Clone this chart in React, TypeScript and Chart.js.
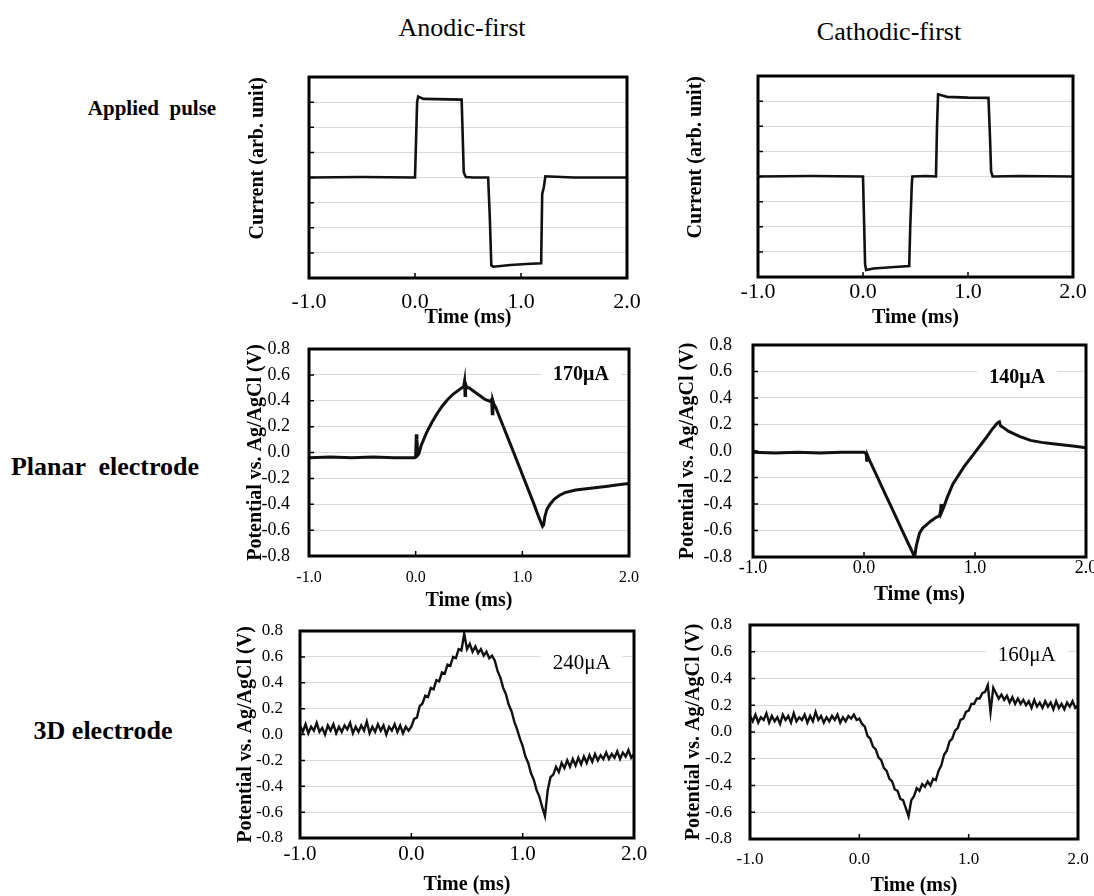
import React, { useEffect, useRef } from "react";
import { Chart, registerables } from "chart.js";

Chart.register(...registerables);

const SERIF = "'Liberation Serif', 'Times New Roman', Times, serif";

// ---------------- data ----------------
const timeTicks = [-1.0, 0.0, 1.0, 2.0];

// Applied pulse, anodic-first (arb. unit)
const anodicPulseTime = [-1.0, -0.5, 0.0, 0.02, 0.03, 0.08, 0.2, 0.44, 0.46, 0.48, 0.55, 0.69, 0.705, 0.72, 0.74, 0.9, 1.05, 1.19, 1.2, 1.215, 1.23, 1.27, 1.5, 2.0];
const anodicPulseValue = [0.0, 0.02, 0.0, 3.0, 3.22, 3.13, 3.12, 3.1, 0.2, 0.02, 0.0, 0.0, -1.5, -3.5, -3.55, -3.48, -3.44, -3.41, -0.65, -0.4, 0.05, 0.04, 0.0, 0.0];

// Applied pulse, cathodic-first (arb. unit)
const cathodicPulseTime = [-1.0, -0.5, 0.0, 0.02, 0.03, 0.1, 0.3, 0.44, 0.45, 0.465, 0.47, 0.6, 0.695, 0.705, 0.715, 0.8, 1.0, 1.195, 1.21, 1.22, 1.235, 1.5, 2.0];
const cathodicPulseValue = [0.0, 0.02, 0.0, -3.5, -3.72, -3.66, -3.6, -3.56, -2.0, -0.3, 0.0, 0.02, 0.0, 2.0, 3.27, 3.17, 3.14, 3.13, 1.5, 0.2, 0.0, 0.02, 0.0];

// Planar electrode, anodic-first (V)
const planarAnodicTime = [-1.0, -0.8, -0.6, -0.4, -0.2, -0.01, 0.0, 0.006, 0.012, 0.02, 0.03, 0.05, 0.1, 0.15, 0.2, 0.25, 0.3, 0.35, 0.4, 0.45, 0.458, 0.463, 0.468, 0.48, 0.5, 0.55, 0.6, 0.65, 0.7, 0.712, 0.718, 0.724, 0.735, 0.75, 0.8, 0.9, 1.0, 1.1, 1.15, 1.19, 1.2, 1.21, 1.23, 1.26, 1.3, 1.35, 1.4, 1.5, 1.6, 1.7, 1.8, 1.9, 2.0];
const planarAnodicValue = [-0.04, -0.035, -0.04, -0.035, -0.04, -0.04, -0.03, 0.14, 0.1, -0.02, -0.01, 0.05, 0.15, 0.23, 0.3, 0.36, 0.41, 0.45, 0.48, 0.51, 0.55, 0.44, 0.53, 0.5, 0.5, 0.47, 0.44, 0.41, 0.395, 0.41, 0.3, 0.4, 0.37, 0.35, 0.245, 0.04, -0.17, -0.38, -0.49, -0.57, -0.56, -0.5, -0.44, -0.4, -0.36, -0.33, -0.31, -0.29, -0.28, -0.27, -0.26, -0.25, -0.24];

// Planar electrode, cathodic-first (V)
const planarCathodicTime = [-1.0, -0.8, -0.6, -0.4, -0.2, 0.0, 0.02, 0.025, 0.03, 0.05, 0.1, 0.15, 0.2, 0.25, 0.3, 0.35, 0.4, 0.44, 0.45, 0.46, 0.47, 0.5, 0.53, 0.56, 0.6, 0.65, 0.68, 0.69, 0.695, 0.7, 0.72, 0.75, 0.8, 0.9, 1.0, 1.1, 1.15, 1.2, 1.22, 1.23, 1.25, 1.3, 1.4, 1.5, 1.6, 1.7, 1.8, 1.9, 2.0];
const planarCathodicValue = [-0.01, -0.015, -0.01, -0.015, -0.01, -0.01, -0.02, -0.08, -0.03, -0.07, -0.16, -0.25, -0.34, -0.43, -0.52, -0.61, -0.7, -0.77, -0.79, -0.78, -0.72, -0.62, -0.58, -0.56, -0.53, -0.5, -0.49, -0.45, -0.4, -0.46, -0.42, -0.35, -0.25, -0.12, -0.01, 0.1, 0.16, 0.21, 0.22, 0.19, 0.18, 0.15, 0.11, 0.08, 0.065, 0.055, 0.045, 0.035, 0.025];

// 3D electrode sampling times (ms)
const electrode3DTime = [
  -1, -0.975, -0.95, -0.925, -0.9, -0.875, -0.85, -0.825, -0.8, -0.775,
  -0.75, -0.725, -0.7, -0.675, -0.65, -0.625, -0.6, -0.575, -0.55, -0.525,
  -0.5, -0.475, -0.45, -0.425, -0.4, -0.375, -0.35, -0.325, -0.3, -0.275,
  -0.25, -0.225, -0.2, -0.175, -0.15, -0.125, -0.1, -0.075, -0.05, -0.025,
  0, 0.025, 0.05, 0.075, 0.1, 0.125, 0.15, 0.175, 0.2, 0.225,
  0.25, 0.275, 0.3, 0.325, 0.35, 0.375, 0.4, 0.425, 0.45, 0.475,
  0.5, 0.525, 0.55, 0.575, 0.6, 0.625, 0.65, 0.675, 0.7, 0.725,
  0.75, 0.775, 0.8, 0.825, 0.85, 0.875, 0.9, 0.925, 0.95, 0.975,
  1, 1.025, 1.05, 1.075, 1.1, 1.125, 1.15, 1.175, 1.2, 1.225,
  1.25, 1.275, 1.3, 1.325, 1.35, 1.375, 1.4, 1.425, 1.45, 1.475,
  1.5, 1.525, 1.55, 1.575, 1.6, 1.625, 1.65, 1.675, 1.7, 1.725,
  1.75, 1.775, 1.8, 1.825, 1.85, 1.875, 1.9, 1.925, 1.95, 1.975,
  2,
];

// 3D electrode, anodic-first (V)
const electrode3DAnodicValue = [
  0.07, 0.02, 0.08, 0.01, 0.06, 0.03, 0.09, 0.02, 0.05, 0.0,
  0.07, 0.03, 0.08, 0.01, 0.06, 0.02, 0.07, 0.04, 0.09, 0.01,
  0.06, 0.02, 0.07, 0.03, 0.1, 0.01, 0.06, 0.02, 0.08, 0.03,
  0.07, 0.0, 0.06, 0.03, 0.08, 0.02, 0.07, 0.01, 0.06, 0.03,
  0.06, 0.12, 0.13, 0.22, 0.24, 0.3, 0.29, 0.36, 0.35, 0.42,
  0.41, 0.48, 0.47, 0.54, 0.53, 0.6, 0.59, 0.66, 0.65, 0.78,
  0.66, 0.7, 0.64, 0.68, 0.63, 0.66, 0.61, 0.64, 0.59, 0.61,
  0.57, 0.49, 0.44, 0.36, 0.31, 0.23, 0.18, 0.1, 0.04, -0.03,
  -0.09, -0.17, -0.22, -0.3, -0.35, -0.43, -0.48, -0.56, -0.63, -0.43,
  -0.33, -0.31, -0.25, -0.29, -0.22, -0.26, -0.2, -0.25, -0.19, -0.24,
  -0.18, -0.23, -0.17, -0.22, -0.16, -0.21, -0.15, -0.2, -0.16, -0.19,
  -0.14, -0.19, -0.15, -0.18, -0.13, -0.19, -0.14, -0.17, -0.12, -0.18,
  -0.15,
];

// 3D electrode, cathodic-first (V)
const electrode3DCathodicValue = [
  0.12, 0.08, 0.13, 0.07, 0.11, 0.09, 0.14, 0.07, 0.12, 0.08,
  0.11, 0.06, 0.13, 0.09, 0.12, 0.07, 0.14, 0.08, 0.11, 0.09,
  0.13, 0.07, 0.12, 0.08, 0.15, 0.09, 0.12, 0.07, 0.11, 0.08,
  0.12, 0.09, 0.13, 0.07, 0.11, 0.08, 0.12, 0.1, 0.13, 0.09,
  0.1, 0.06, 0.04, -0.03, -0.05, -0.11, -0.13, -0.19, -0.21, -0.27,
  -0.29, -0.35, -0.37, -0.43, -0.44, -0.5, -0.51, -0.57, -0.63, -0.51,
  -0.48, -0.42, -0.44, -0.39, -0.41, -0.37, -0.4, -0.35, -0.36, -0.29,
  -0.25, -0.17, -0.14, -0.07, -0.05, 0.01, 0.03, 0.09, 0.1, 0.15,
  0.16, 0.21, 0.21, 0.25, 0.25, 0.29, 0.3, 0.35, 0.15, 0.33,
  0.29, 0.25, 0.28, 0.24, 0.27, 0.22, 0.26, 0.21, 0.25, 0.21,
  0.24, 0.2, 0.23, 0.18, 0.24, 0.19, 0.22, 0.18, 0.23, 0.19,
  0.22, 0.17, 0.23, 0.18, 0.21, 0.17, 0.22, 0.19, 0.23, 0.18,
  0.2,
];

const columnTitles = ["Anodic-first", "Cathodic-first"];
const rowTitles = ["Applied  pulse", "Planar  electrode", "3D electrode"];
const stimulusLabels = ["170μA", "140μA", "240μA", "160μA"];

// ---------------- layout / style ----------------
type Note = { text: string; x: number; y: number; size: number; bold: boolean };
type PanelCfg = {
  L: number; T: number; R: number; B: number;
  times: number[]; values: number[];
  yMin: number; yMax: number; yStep: number; showYLabels: boolean;
  yTitle: string; yTitleX: number; yTitleAlign: "center" | "end"; yTitleSize: number;
  yTickSize: number; yTickPad: number;
  xTickSize: number; xTickPad: number; xTitleY: number; xTitleSize: number;
  lineWidth: number; note: Note | null;
};

const POT = "Potential vs. Ag/AgCl (V)";
const CUR = "Current (arb. unit)";

const PANELS: PanelCfg[] = [
  { L: 309, T: 77, R: 627, B: 278, times: anodicPulseTime, values: anodicPulseValue,
    yMin: -4, yMax: 4, yStep: 1, showYLabels: false,
    yTitle: CUR, yTitleX: 258, yTitleAlign: "end", yTitleSize: 20, yTickSize: 18, yTickPad: 10,
    xTickSize: 22, xTickPad: 11, xTitleY: 318, xTitleSize: 20, lineWidth: 2.6, note: null },
  { L: 758, T: 76, R: 1073, B: 277, times: cathodicPulseTime, values: cathodicPulseValue,
    yMin: -4, yMax: 4, yStep: 1, showYLabels: false,
    yTitle: CUR, yTitleX: 696, yTitleAlign: "end", yTitleSize: 20, yTickSize: 18, yTickPad: 10,
    xTickSize: 22, xTickPad: 2, xTitleY: 318, xTitleSize: 20, lineWidth: 2.6, note: null },
  { L: 309, T: 349, R: 629, B: 556, times: planarAnodicTime, values: planarAnodicValue,
    yMin: -0.8, yMax: 0.8, yStep: 0.2, showYLabels: true,
    yTitle: POT, yTitleX: 256, yTitleAlign: "center", yTitleSize: 20, yTickSize: 18, yTickPad: 19,
    xTickSize: 16, xTickPad: 12, xTitleY: 601, xTitleSize: 20, lineWidth: 3,
    note: { text: stimulusLabels[0], x: 1.55, y: 0.6, size: 20, bold: true } },
  { L: 753, T: 345, R: 1086, B: 557, times: planarCathodicTime, values: planarCathodicValue,
    yMin: -0.8, yMax: 0.8, yStep: 0.2, showYLabels: true,
    yTitle: POT, yTitleX: 688, yTitleAlign: "center", yTitleSize: 20, yTickSize: 18, yTickPad: 21,
    xTickSize: 18, xTickPad: 0, xTitleY: 594, xTitleSize: 21, lineWidth: 3,
    note: { text: stimulusLabels[1], x: 1.38, y: 0.55, size: 20, bold: true } },
  { L: 300, T: 631, R: 634, B: 838, times: electrode3DTime, values: electrode3DAnodicValue,
    yMin: -0.8, yMax: 0.8, yStep: 0.2, showYLabels: true,
    yTitle: POT, yTitleX: 246, yTitleAlign: "center", yTitleSize: 20, yTickSize: 17, yTickPad: 17,
    xTickSize: 21, xTickPad: 4, xTitleY: 885, xTitleSize: 20, lineWidth: 2.4,
    note: { text: stimulusLabels[2], x: 1.53, y: 0.55, size: 21, bold: false } },
  { L: 750, T: 625, R: 1078, B: 839, times: electrode3DTime, values: electrode3DCathodicValue,
    yMin: -0.8, yMax: 0.8, yStep: 0.2, showYLabels: true,
    yTitle: POT, yTitleX: 694, yTitleAlign: "center", yTitleSize: 20, yTickSize: 17, yTickPad: 18,
    xTickSize: 17, xTickPad: 10, xTitleY: 886, xTitleSize: 20, lineWidth: 2.4,
    note: { text: stimulusLabels[3], x: 1.53, y: 0.57, size: 21, bold: false } },
];

const TEXTS = [
  { text: columnTitles[0], x: 462, y: 28, size: 26, bold: false },
  { text: columnTitles[1], x: 889, y: 32, size: 26, bold: false },
  { text: rowTitles[0], x: 152, y: 108, size: 21, bold: true },
  { text: rowTitles[1], x: 105, y: 467, size: 26, bold: true },
  { text: rowTitles[2], x: 103, y: 731, size: 26, bold: true },
];

const PAD_TOP = 14;
const PAD_RIGHT = 22;

function geometry(c: PanelCfg) {
  const left = Math.round(c.yTitleX - c.yTitleSize / 2);
  const top = c.T - PAD_TOP;
  const bottom = Math.round(c.xTitleY + c.xTitleSize / 2);
  return {
    left, top,
    width: c.R + PAD_RIGHT - left,
    height: bottom - top,
    yAxisW: c.L - left,
    xAxisH: bottom - c.B,
  };
}

const fmt = (v: number) => (Math.abs(v) < 1e-9 ? "0.0" : v.toFixed(1));

function Panel({ cfg }: { cfg: PanelCfg }) {
  const ref = useRef<HTMLCanvasElement>(null);
  const g = geometry(cfg);

  useEffect(() => {
    if (!ref.current) return;
    const deco = {
      id: "deco",
      afterDatasetsDraw(chart: any) {
        const n = cfg.note;
        if (!n) return;
        const { ctx, scales } = chart;
        const x = scales.x.getPixelForValue(n.x);
        const y = scales.y.getPixelForValue(n.y);
        ctx.save();
        ctx.font = `${n.bold ? "bold " : ""}${n.size}px ${SERIF}`;
        const w = ctx.measureText(n.text).width;
        ctx.fillStyle = "#ffffff";
        ctx.fillRect(x - w / 2 - 12, y - n.size * 0.62, w + 24, n.size * 1.24);
        ctx.fillStyle = "#000000";
        ctx.textAlign = "center";
        ctx.textBaseline = "middle";
        ctx.fillText(n.text, x, y);
        ctx.restore();
      },
      afterDraw(chart: any) {
        const { ctx, chartArea: a, scales } = chart;
        ctx.save();
        ctx.strokeStyle = "#000000";
        ctx.lineWidth = 1.5;
        ctx.beginPath();
        scales.y.ticks.forEach((t: any) => {
          const y = scales.y.getPixelForValue(t.value);
          ctx.moveTo(a.left, y);
          ctx.lineTo(a.left + 5, y);
        });
        scales.x.ticks.forEach((t: any) => {
          const x = scales.x.getPixelForValue(t.value);
          ctx.moveTo(x, a.bottom);
          ctx.lineTo(x, a.bottom - 5);
        });
        ctx.stroke();
        ctx.lineWidth = 3;
        ctx.strokeRect(a.left, a.top, a.right - a.left, a.bottom - a.top);
        ctx.restore();
      },
    };

    const chart = new Chart(ref.current, {
      type: "line",
      data: {
        datasets: [
          {
            data: cfg.times.map((t, i) => ({ x: t, y: cfg.values[i] })),
            borderColor: "#111111",
            borderWidth: cfg.lineWidth,
            pointRadius: 0,
            tension: 0,
            fill: false,
          },
        ],
      },
      options: {
        responsive: false,
        animation: false,
        devicePixelRatio: 1,
        layout: { padding: { left: 0, top: PAD_TOP, right: PAD_RIGHT, bottom: 0 } },
        plugins: { legend: { display: false }, tooltip: { enabled: false } },
        scales: {
          x: {
            type: "linear",
            min: timeTicks[0],
            max: timeTicks[timeTicks.length - 1],
            afterBuildTicks: (s: any) => {
              s.ticks = timeTicks.map((v) => ({ value: v }));
            },
            afterFit: (s: any) => {
              s.height = g.xAxisH;
            },
            grid: { display: false, drawTicks: true, tickLength: cfg.xTickPad },
            border: { display: false },
            ticks: {
              padding: 0,
              color: "#000000",
              maxRotation: 0,
              autoSkip: false,
              font: { family: SERIF, size: cfg.xTickSize },
              callback: (v: any) => fmt(Number(v)),
            },
            title: {
              display: true,
              text: "Time (ms)",
              color: "#000000",
              padding: 0,
              font: { family: SERIF, size: cfg.xTitleSize, weight: "bold", lineHeight: 1 },
            },
          },
          y: {
            type: "linear",
            min: cfg.yMin,
            max: cfg.yMax,
            afterFit: (s: any) => {
              s.width = g.yAxisW;
            },
            grid: {
              color: "#d9d9d9",
              lineWidth: 1,
              drawTicks: true,
              tickLength: cfg.yTickPad,
              tickColor: "rgba(0,0,0,0)",
            },
            border: { display: false },
            ticks: {
              display: cfg.showYLabels,
              autoSkip: false,
              stepSize: cfg.yStep,
              padding: 0,
              color: "#000000",
              font: { family: SERIF, size: cfg.yTickSize },
              callback: (v: any) => fmt(Number(v)),
            },
            title: {
              display: true,
              text: cfg.yTitle,
              align: cfg.yTitleAlign,
              color: "#000000",
              padding: 0,
              font: { family: SERIF, size: cfg.yTitleSize, weight: "bold", lineHeight: 1 },
            },
          },
        },
      },
      plugins: [deco],
    } as any);
    return () => chart.destroy();
  }, []);

  return (
    <canvas
      ref={ref}
      width={g.width}
      height={g.height}
      style={{ position: "absolute", left: g.left, top: g.top, width: g.width, height: g.height }}
    />
  );
}

export default function App() {
  return (
    <div
      style={{
        position: "absolute",
        left: 0,
        top: 0,
        width: 1094,
        height: 896,
        overflow: "hidden",
        background: "#ffffff",
      }}
    >
      {TEXTS.map((t) => (
        <div
          key={t.text}
          style={{
            position: "absolute",
            left: t.x,
            top: t.y,
            transform: "translate(-50%, -50%)",
            fontFamily: SERIF,
            fontSize: t.size,
            fontWeight: t.bold ? "bold" : "normal",
            whiteSpace: "pre",
            lineHeight: 1,
            color: "#000",
          }}
        >
          {t.text}
        </div>
      ))}
      {PANELS.map((p, i) => (
        <Panel key={i} cfg={p} />
      ))}
    </div>
  );
}
